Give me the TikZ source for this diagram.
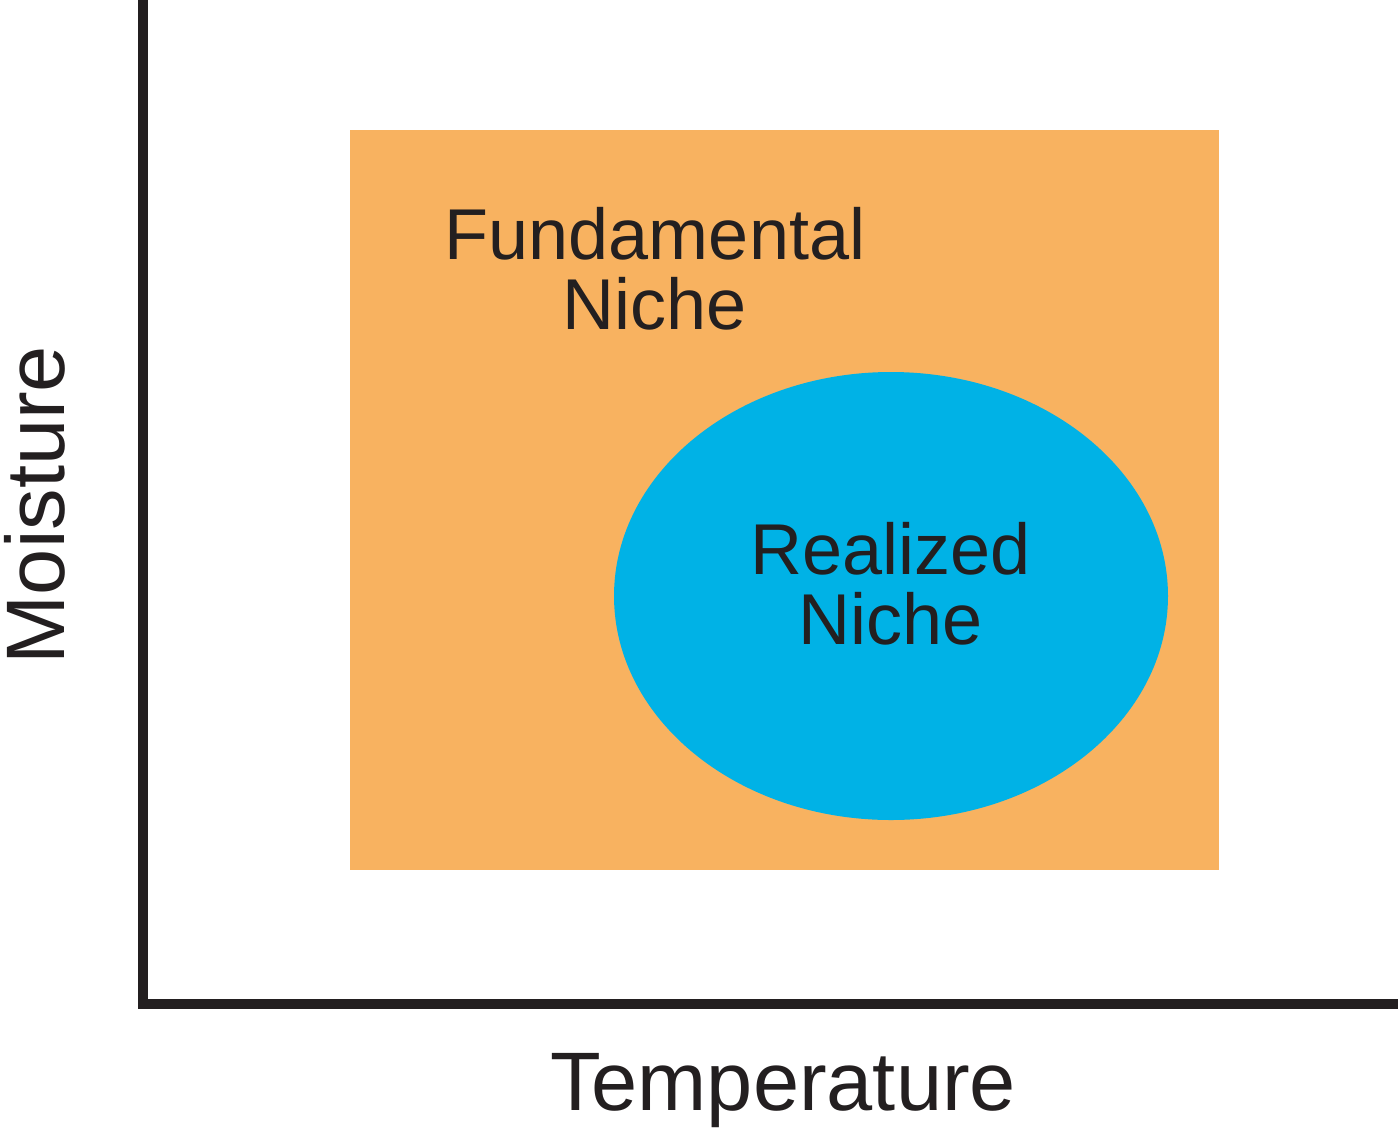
\documentclass[tikz,border=0pt]{standalone}
\usepackage{fontspec}
\usetikzlibrary{shapes.geometric}
\setmainfont{Liberation Sans}
\definecolor{fund}{HTML}{F8B260}
\definecolor{real}{HTML}{00B2E6}
\definecolor{ink}{HTML}{231F20}
\begin{document}
\begin{tikzpicture}[x=0.5pt,y=-0.5pt,
  axis/.style={line width=5pt,draw=ink},
  inlabel/.style={text=ink,font=\fontsize{36}{35}\selectfont,align=center,inner sep=0pt},
  axlabel/.style={text=ink,font=\fontsize{41.5}{40}\selectfont,inner sep=0pt}]
\useasboundingbox[fill=white] (0,0) rectangle (1398,1136);
\fill[fund] (350,130) rectangle (1219,870);
\node[ellipse,fill=real,minimum width=277pt,minimum height=224pt,inner sep=0pt] (rn) at (891,596) {};
\node[inlabel] (fnt) at (655,269) {Fundamental\\Niche};
\node[inlabel] (rnt) at (891,584) {Realized\\Niche};
\coordinate (top) at (143,0);
\coordinate (corner) at (143,1004);
\coordinate (right) at (1398,1004);
\draw[axis] (top) -- ([yshift=-2.5pt]corner);
\draw[axis] ([xshift=-2.5pt]corner) -- (right);
\node[axlabel] (tl) at (783,1091) {Temperature};
\node[axlabel,rotate=90] (ml) at (35,505) {Moisture};
\end{tikzpicture}
\end{document}
